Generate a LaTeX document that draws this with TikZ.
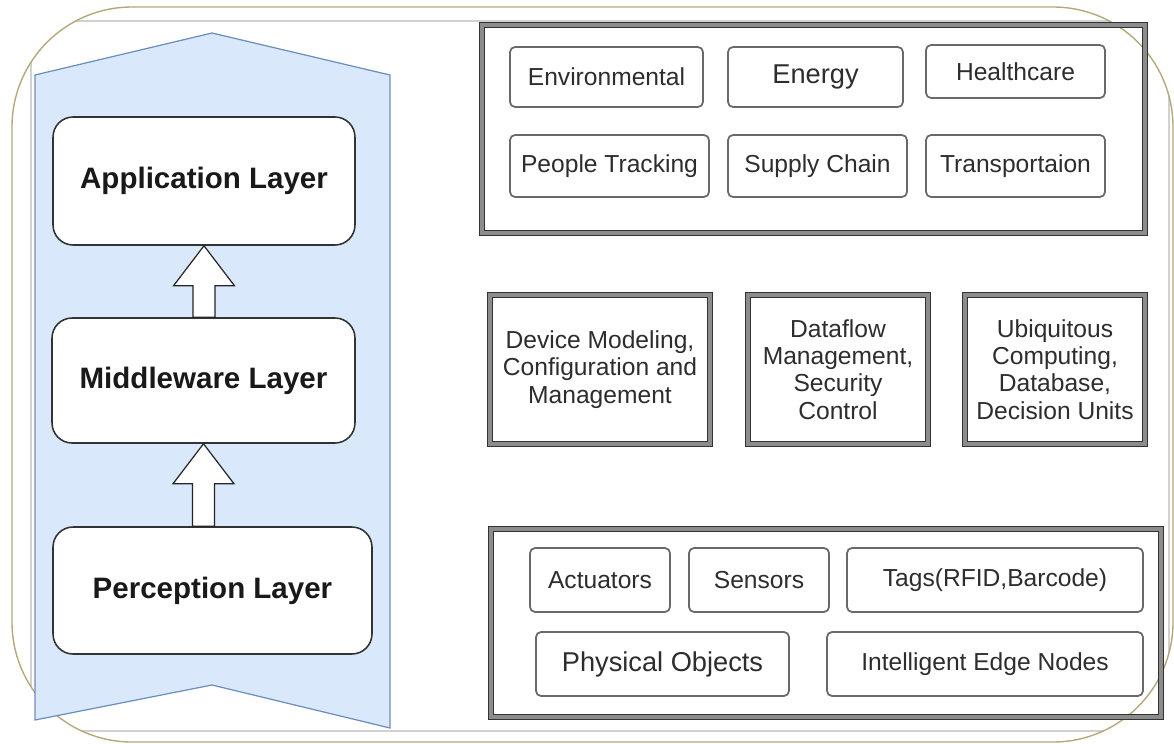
\documentclass[tikz,border=0pt]{standalone}
\usepackage{fontspec}
\setmainfont{Liberation Sans}
\usepackage{tikz}
\usetikzlibrary{calc}
\definecolor{bannerblue}{RGB}{218, 232, 252}
\definecolor{bannerline}{RGB}{108, 142, 191}
\definecolor{framekhaki}{RGB}{181, 168, 122}
\definecolor{boxgray}{RGB}{105, 105, 105}
\definecolor{textgray}{RGB}{45, 45, 45}

\tikzset{
  layerbox/.style={draw = black!80, line width = 0.9pt, fill = white, rounded corners = 0.4cm, text = black!90, font = \fontsize{16.8}{19}\selectfont\bfseries},
  itembox/.style={draw = boxgray, line width = 1pt, fill = white, rounded corners = 0.1cm, inner sep = 0pt, text = textgray, font = \fontsize{14}{15.5}\selectfont},
  groupframe/.style={draw = black!80, line width = 0.7pt, double = black!45, double distance = 2pt, inner sep = 0pt},
  midbox/.style={groupframe, fill = white, align = center, text = textgray, font = \fontsize{14}{15.5}\selectfont},
  blockarrow/.style={draw = black!85, line width = 0.7pt, fill = white, line join = miter}
}

% hollow up-arrow from the top of one box to the bottom of the next
\newcommand{\layerarrow}[2]{%
\draw[blockarrow] let \p1 = (#1.south), \p2 = (#2.north) in
(\x1,\y1) -- (\x1+0.61cm,\y1-0.8cm) -- (\x1+0.22cm,\y1-0.8cm) -- (\x1+0.22cm,\y2) -- (\x1-0.22cm,\y2) -- (\x1-0.22cm,\y1-0.8cm) -- (\x1-0.61cm,\y1-0.8cm) -- cycle;}

\begin{document}
\begin{tikzpicture}[x = 0.02cm, y = -0.02cm]
\useasboundingbox (0,0) rectangle (1174,744);

\begin{scope}
\clip[rounded corners = 2.4cm] (12,7) rectangle (1173,742);
\draw[black!18, line width = 1.2pt] (31,21) rectangle (1169,731);
\end{scope}
\draw[framekhaki, line width = 0.8pt, rounded corners = 2.4cm] (12,7) rectangle (1173,742);

% left banner with the three layers
\draw[fill = bannerblue, draw = bannerline, line width = 0.7pt] (35,75) -- (212,33) -- (390,75) -- (390,728) -- (212,685) -- (35,720) -- cycle;

\node[layerbox, minimum width = 6.04cm, minimum height = 2.56cm] (app) at (204,181) {Application Layer};
\node[layerbox, minimum width = 6.06cm, minimum height = 2.5cm] (mid) at (203.5,380.5) {Middleware Layer};
\node[layerbox, minimum width = 6.38cm, minimum height = 2.54cm] (per) at (212.5,590.5) {Perception Layer};

\layerarrow{app}{mid}
\layerarrow{mid}{per}

% application group
\node[groupframe, minimum width = 13.26cm, minimum height = 4.16cm] (topframe) at (813.5,129) {};
\node[itembox, minimum width = 3.86cm, minimum height = 1.2cm] (env) at (606.5,77) {Environmental};
\node[itembox, minimum width = 3.5cm, minimum height = 1.2cm, font = \fontsize{15.5}{17}\selectfont] (energy) at (815.5,77) {Energy};
\node[itembox, minimum width = 3.58cm, minimum height = 1.06cm] (health) at (1015.5,71.5) {Healthcare};
\node[itembox, minimum width = 3.98cm, minimum height = 1.24cm] (people) at (609.5,166) {People Tracking};
\node[itembox, minimum width = 3.58cm, minimum height = 1.24cm] (supply) at (817.5,166) {Supply Chain};
\node[itembox, minimum width = 3.58cm, minimum height = 1.24cm] (transp) at (1015.5,166) {Transportaion};

% middleware group
\node[midbox, minimum width = 4.4cm, minimum height = 2.98cm] (devmod) at (600,369.5) {Device Modeling,\\Configuration and\\Management};
\node[midbox, minimum width = 3.6cm, minimum height = 2.98cm] (dataflow) at (838,369.5) {Dataflow\\Management,\\Security\\Control};
\node[midbox, minimum width = 3.6cm, minimum height = 2.98cm] (ubiq) at (1055,369.5) {Ubiquitous\\Computing,\\Database,\\Decision Units};

% perception group
\node[groupframe, minimum width = 13.4cm, minimum height = 3.76cm] (botframe) at (826,623) {};
\node[itembox, minimum width = 2.8cm, minimum height = 1.28cm] (act) at (600,580) {Actuators};
\node[itembox, minimum width = 2.8cm, minimum height = 1.28cm] (sens) at (759,580) {Sensors};
\node[itembox, minimum width = 5.92cm, minimum height = 1.28cm] (tags) at (995,580) {Tags(RFID,Barcode)};
\node[itembox, minimum width = 5.06cm, minimum height = 1.28cm, font = \fontsize{15.5}{17}\selectfont] (phys) at (662.5,664) {Physical Objects};
\node[itembox, minimum width = 6.32cm, minimum height = 1.28cm] (edge) at (985,664) {Intelligent Edge Nodes};

\end{tikzpicture}
\end{document}
